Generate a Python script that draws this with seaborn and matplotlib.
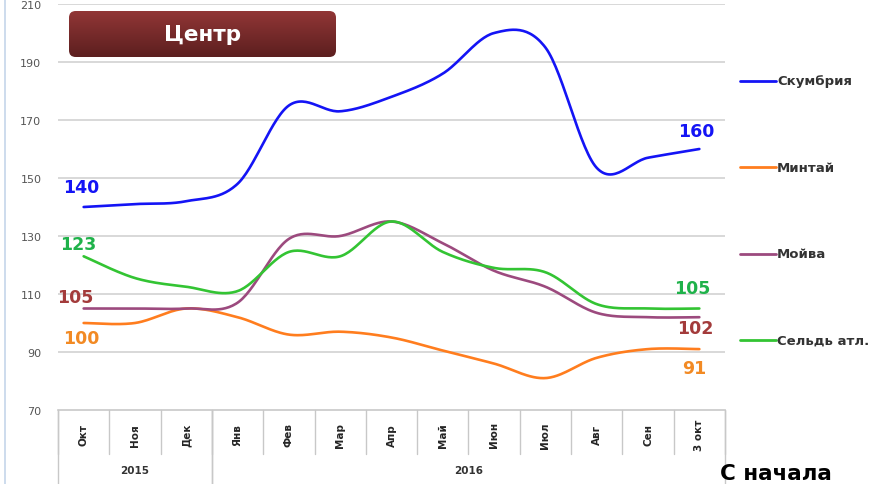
import numpy as np
import pandas as pd
import matplotlib
matplotlib.use("Agg")
import matplotlib.pyplot as plt
import seaborn as sns
from matplotlib.patches import FancyBboxPatch
from matplotlib.lines import Line2D
from matplotlib import transforms

# Данные (индекс цен, Центр)
months = ['Окт', 'Ноя', 'Дек', 'Янв', 'Фев', 'Мар', 'Апр', 'Май', 'Июн', 'Июл', 'Авг', 'Сен', '3 окт']
years = ['2015', '2016']
year_spans = [(0, 2), (3, 12)]
skumbria = [140, 141, 142, 148, 175, 173, 178, 186, 200, 195, 153.5, 157, 160]
mintai = [100, 100, 105, 102, 96, 97, 95, 90.5, 86, 81, 88, 91, 91]
moiva = [105, 105, 105, 107, 129, 130, 135, 127.5, 118, 112.5, 103.5, 102, 102]
seld = [123, 115.5, 112.5, 111, 124.5, 123, 135, 124.5, 119, 117.5, 106.5, 105, 105]

series_names = ['Скумбрия', 'Минтай', 'Мойва', 'Сельдь атл.']
series_values = [skumbria, mintai, moiva, seld]
line_colors = ['#1414F5', '#FF7D1E', '#9C4A7E', '#33C433']
label_colors = ['#1414F5', '#F28A24', '#A33B3B', '#1FB24A']
# смещения подписей (в точках) для первого и последнего значения
first_offsets = [(-1.5, 14.5), (-1.5, -11), (-6, 8.5), (-4, 8.5)]
last_offsets = [(-2, 13), (-3.5, -13.5), (-3, -7.5), (-5, 15)]


def smooth(y, n=30):
    """Сглаживание как в Excel (кривые Катмулла-Рома)."""
    y = np.asarray(y, dtype=float)
    x = np.arange(len(y), dtype=float)
    px = np.concatenate([[x[0]], x, [x[-1]]])
    py = np.concatenate([[y[0]], y, [y[-1]]])
    xs, ys = [], []
    t = np.linspace(0, 1, n, endpoint=False)
    for i in range(1, len(px) - 2):
        for p, out in ((px, xs), (py, ys)):
            p0, p1, p2, p3 = p[i - 1], p[i], p[i + 1], p[i + 2]
            c1 = p1 + (p2 - p0) / 6
            c2 = p2 - (p3 - p1) / 6
            out.extend((1 - t) ** 3 * p1 + 3 * (1 - t) ** 2 * t * c1
                       + 3 * (1 - t) * t ** 2 * c2 + t ** 3 * p2)
    xs.append(x[-1])
    ys.append(y[-1])
    return np.array(xs), np.array(ys)


sns.set_style("white")
plt.rcParams['font.family'] = ['DejaVu Sans']

fig = plt.figure(figsize=(8.71, 4.85), dpi=100)
ax = fig.add_axes([58 / 871, 1 - 411 / 485, 667 / 871, 406 / 485])

for name, vals, col in zip(series_names, series_values, line_colors):
    xs, ys = smooth(vals)
    sns.lineplot(x=xs, y=ys, ax=ax, color=col, lw=1.9, label=name, legend=False, sort=False)

ax.set_xlim(-0.5, len(months) - 0.5)
ax.set_ylim(70, 210)
ax.set_yticks(range(70, 211, 20))
ax.tick_params(axis='y', length=0, pad=12, labelsize=8, labelcolor='#555555')
ax.set_xticks([])
for v in range(90, 211, 20):
    ax.axhline(v, color='#D6D6D6', lw=1.3, zorder=0)
for s in ['top', 'right', 'left']:
    ax.spines[s].set_visible(False)
ax.spines['bottom'].set_color('#C8C8C8')
ax.spines['bottom'].set_linewidth(1.2)

# подписи первого и последнего значения
for vals, col, fo, lo in zip(series_values, label_colors, first_offsets, last_offsets):
    ax.annotate(str(vals[0]), (0, vals[0]), xytext=fo, textcoords='offset points',
                ha='center', va='center', fontsize=12.5, fontweight='bold', color=col)
    ax.annotate(str(int(vals[-1])), (len(vals) - 1, vals[-1]), xytext=lo, textcoords='offset points',
                ha='center', va='center', fontsize=12.5, fontweight='bold', color=col)

# категории по оси X в две строки
trans = transforms.blended_transform_factory(ax.transData, ax.transAxes)
for i, m in enumerate(months):
    ax.text(i, -0.06, m, transform=trans, rotation=90, ha='center', va='center',
            fontsize=7.5, fontweight='bold', color='#262626')
for k in range(len(months) + 1):
    ax.plot([k - 0.5, k - 0.5], [0, -0.108], transform=trans, color='#C8C8C8', lw=1, clip_on=False)
for yr, (a, b) in zip(years, year_spans):
    ax.text((a + b) / 2, -0.147, yr, transform=trans, ha='center', va='center',
            fontsize=7.5, fontweight='bold', color='#333333')
    for xb in (a - 0.5, b + 0.5):
        ax.plot([xb, xb], [0, -0.2], transform=trans, color='#C8C8C8', lw=1, clip_on=False)

# легенда справа
for j, (name, col) in enumerate(zip(series_names, line_colors)):
    yf = 1 - (82 + j * 86.3) / 485
    fig.add_artist(Line2D([740 / 871, 776 / 871], [yf, yf], color=col, lw=2))
    fig.text(777 / 871, yf, name, ha='left', va='center', fontsize=9.5,
             fontweight='bold', color='#333333')

# заголовок "Центр"
bax = fig.add_axes([69 / 871, 1 - 58 / 485, 267 / 871, 46 / 485])
bax.axis('off')
grad = np.linspace(0, 1, 100).reshape(-1, 1)
cmap = matplotlib.colors.LinearSegmentedColormap.from_list('box', ['#913636', '#5C1F1F'])
im = bax.imshow(grad, extent=[0, 1, 0, 1], aspect='auto', cmap=cmap, origin='upper')
box = FancyBboxPatch((0, 0), 1, 1, boxstyle='round,pad=0,rounding_size=0.025',
                     mutation_aspect=267 / 46, transform=bax.transAxes,
                     facecolor='none', edgecolor='none')
bax.add_patch(box)
im.set_clip_path(box)
bax.set_xlim(0, 1)
bax.set_ylim(0, 1)
bax.text(0.5, 0.5, 'Центр', ha='center', va='center', fontsize=15.5,
         fontweight='bold', color='white', transform=bax.transAxes)

# рамка слева и текст внизу
fig.add_artist(Line2D([5 / 871, 5 / 871], [0, 1], color='#C5D5EA', lw=1.2))
fig.text(720 / 871, 0.003, 'С начала', ha='left', va='bottom', fontsize=15.5,
         fontweight='bold', color='black')

fig.savefig('out.png', dpi=100)
